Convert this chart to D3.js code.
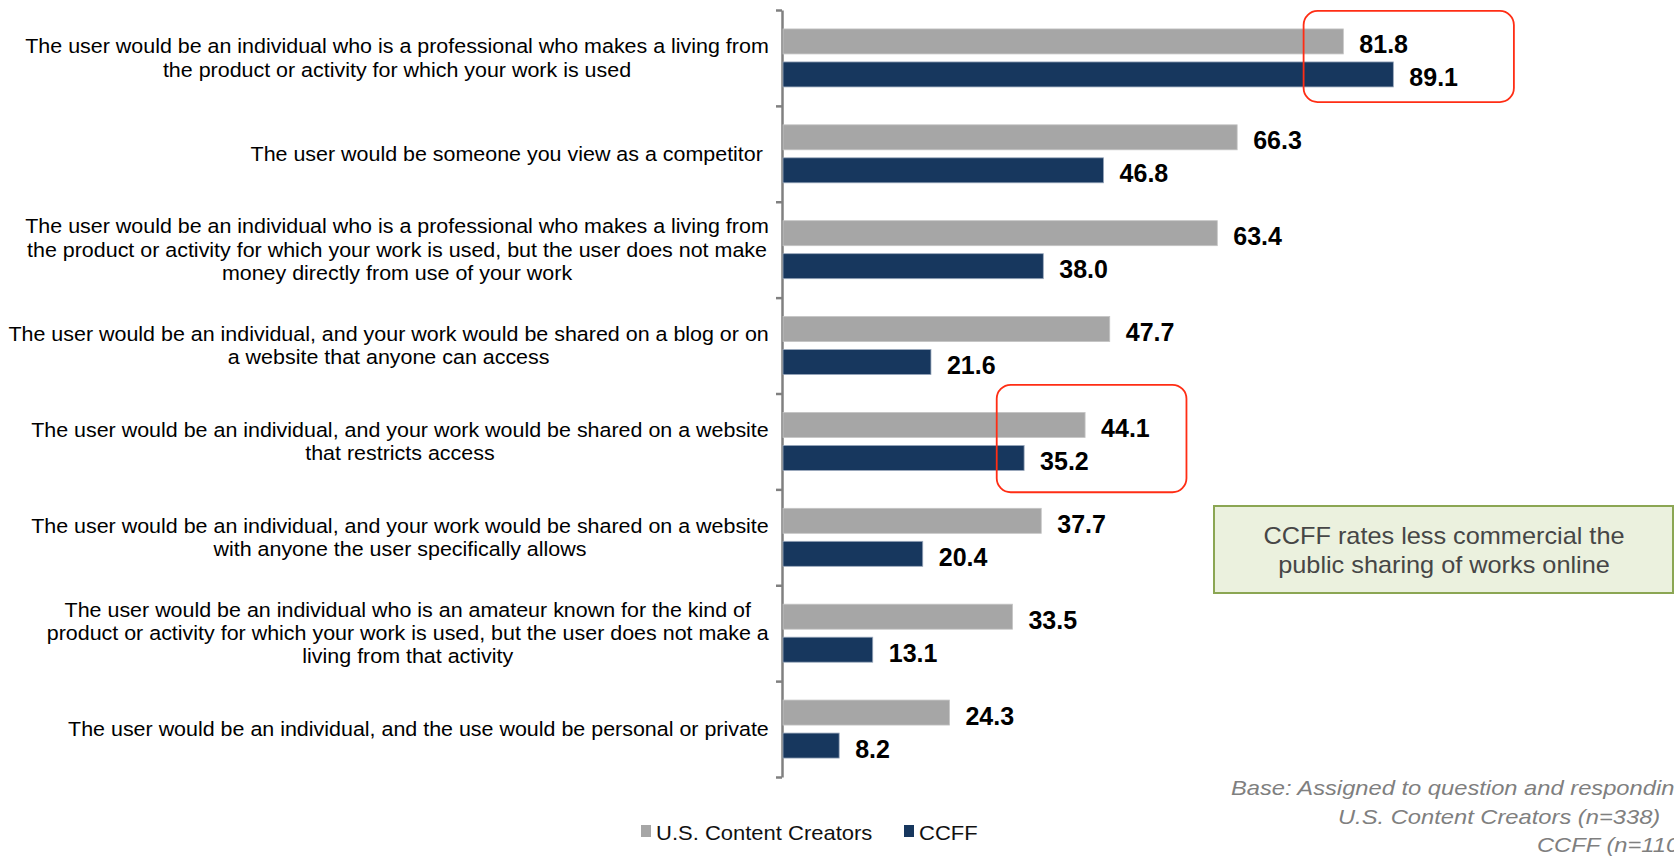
<!DOCTYPE html>
<html>
<head>
<meta charset="utf-8">
<script src="https://cdn.jsdelivr.net/npm/d3@7"></script>
<style>
  html, body { margin: 0; padding: 0; background: #fff; overflow: hidden; }
  svg { display: block; font-family: "Liberation Sans", Arial, sans-serif; }
</style>
</head>
<body>
<div id="chart"></div>
<script>
// categories, one entry per line of the wrapped label
var categories = [
  ["The user would be an individual who is a professional who makes a living from",
   "the product or activity for which your work is used"],
  ["The user would be someone you view as a competitor "],
  ["The user would be an individual who is a professional who makes a living from",
   "the product or activity for which your work is used, but the user does not make",
   "money directly from use of your work"],
  ["The user would be an individual, and your work would be shared on a blog or on",
   "a website that anyone can access"],
  ["The user would be an individual, and your work would be shared on a website",
   "that restricts access"],
  ["The user would be an individual, and your work would be shared on a website",
   "with anyone the user specifically allows"],
  ["The user would be an individual who is an amateur known for the kind of",
   "product or activity for which your work is used, but the user does not make a",
   "living from that activity"],
  ["The user would be an individual, and the use would be personal or private"]
];
var seriesNames = ["U.S. Content Creators", "CCFF"];
var usCreators = [81.8, 66.3, 63.4, 47.7, 44.1, 37.7, 33.5, 24.3];
var ccff = [89.1, 46.8, 38.0, 21.6, 35.2, 20.4, 13.1, 8.2];

// red outlines: value range and span in category slots
var highlights = [
  {from: 76.0, to: 106.7, slot0: 0.01, slot1: 0.96},
  {from: 31.2, to: 58.9, slot0: 3.91, slot1: 5.03}
];
var calloutText = ["CCFF rates less commercial the", "public sharing of works online"];
var baseNote = ["Base: Assigned to question and responding", "U.S. Content Creators (n=338)", "CCFF (n=1109)"];

var W = 1674, H = 857;
var colors = ["#a6a6a6", "#17375e"];
var stretch = 1.1;   // the source text is a bit wider than Arial

var svg = d3.select("#chart").append("svg")
    .attr("width", W)
    .attr("height", H);

var rows = categories.map(function(c, i) {
  return {idx: i, lines: c, values: [usCreators[i], ccff[i]]};
});

var x = d3.scaleLinear().domain([0, 100]).range([783, 1468]);

var y = d3.scaleBand()
    .domain(d3.range(categories.length))
    .range([10, 777])
    .paddingInner(0.395)
    .paddingOuter(0.1975);

var ySlot = d3.scaleLinear().domain([0, categories.length]).range([10, 777]);

var ySeries = d3.scaleBand()
    .domain([0, 1])
    .range([0, y.bandwidth()])
    .paddingInner(0.2424);

// axis with ticks on category boundaries
var axis = svg.append("g")
    .attr("transform", "translate(782,0)")
    .call(d3.axisLeft(ySlot).ticks(categories.length).tickSizeInner(6).tickSizeOuter(0).tickFormat(""));
axis.select(".domain").attr("stroke", "#808080").attr("stroke-width", 2.5);
axis.selectAll(".tick line").attr("stroke", "#808080").attr("stroke-width", 2.5);

// bars
var groups = svg.selectAll(".row")
    .data(rows)
    .enter().append("g")
    .attr("class", "row")
    .attr("transform", function(d) { return "translate(0," + y(d.idx) + ")"; });

groups.selectAll("rect")
    .data(function(d) { return d.values.map(function(v, k) { return {k: k, v: v}; }); })
    .enter().append("rect")
    .attr("x", x(0))
    .attr("y", function(d) { return ySeries(d.k); })
    .attr("width", function(d) { return x(d.v) - x(0); })
    .attr("height", ySeries.bandwidth())
    .attr("fill", function(d) { return colors[d.k]; })
    .attr("stroke", function(d) { return d.k == 0 ? "#c4c4c4" : "#9aa8bc"; })
    .attr("stroke-width", 0.8);

groups.selectAll("text.val")
    .data(function(d) { return d.values.map(function(v, k) { return {k: k, v: v}; }); })
    .enter().append("text")
    .attr("class", "val")
    .attr("x", function(d) { return x(d.v) + 16; })
    .attr("y", function(d) { return ySeries(d.k) + ySeries.bandwidth() - 0.5; })
    .attr("font-size", 25)
    .attr("font-weight", "bold")
    .attr("fill", "#000")
    .text(function(d) { return d3.format(".1f")(d.v); });

// category labels: lines centred on each other, block right aligned to the axis
var lineH = 23.3;
var labels = svg.selectAll(".cat")
    .data(rows)
    .enter().append("g")
    .attr("class", "cat");

labels.selectAll("text")
    .data(function(d) { return d.lines; })
    .enter().append("text")
    .attr("x", 0)
    .attr("y", function(l, i, nodes) { return (i - (nodes.length - 1) / 2) * lineH + 7; })
    .attr("text-anchor", "middle")
    .attr("font-size", 19.5)
    .attr("fill", "#000")
    .style("white-space", "pre")
    .text(function(l) { return l; });

labels.attr("transform", function(d) {
  var w = 0;
  d3.select(this).selectAll("text").each(function() { w = Math.max(w, this.getComputedTextLength()); });
  var cx = 769 - w * stretch / 2;
  return "translate(" + cx + "," + (y(d.idx) + y.bandwidth() / 2) + ") scale(" + stretch + ",1)";
});

// red outlines
svg.selectAll(".hl")
    .data(highlights)
    .enter().append("rect")
    .attr("class", "hl")
    .attr("x", function(d) { return x(d.from); })
    .attr("y", function(d) { return ySlot(d.slot0); })
    .attr("width", function(d) { return x(d.to) - x(d.from); })
    .attr("height", function(d) { return ySlot(d.slot1) - ySlot(d.slot0); })
    .attr("rx", 14)
    .attr("fill", "none")
    .attr("stroke", "#ff2d14")
    .attr("stroke-width", 1.8);

// callout box
var callout = svg.append("g").attr("transform", "translate(1214,506)");
callout.append("rect")
    .attr("width", 459)
    .attr("height", 87)
    .attr("fill", "#ebf1de")
    .attr("stroke", "#8ba653")
    .attr("stroke-width", 2);
callout.selectAll("text")
    .data(calloutText)
    .enter().append("text")
    .attr("transform", function(d, i) { return "translate(230," + (38 + i * 29) + ") scale(" + stretch + ",1)"; })
    .attr("text-anchor", "middle")
    .attr("font-size", 23)
    .attr("fill", "#464646")
    .text(function(d) { return d; });

// legend
var legend = svg.append("g").attr("transform", "translate(641,825)");
var legX = [0, 263];
var li = legend.selectAll("g")
    .data(seriesNames)
    .enter().append("g")
    .attr("transform", function(d, i) { return "translate(" + legX[i] + ",0)"; });
li.append("rect")
    .attr("width", 10)
    .attr("height", 12)
    .attr("fill", function(d, i) { return colors[i]; });
li.append("text")
    .attr("transform", "translate(15,15) scale(" + stretch + ",1)")
    .attr("font-size", 20)
    .attr("fill", "#111")
    .text(function(d) { return d; });

// base note, runs past the right edge like the source
var baseX = [1231, 1338, 1537];
svg.selectAll(".base")
    .data(baseNote)
    .enter().append("text")
    .attr("class", "base")
    .attr("transform", function(d, i) { return "translate(" + baseX[i] + "," + (795 + i * 28.5) + ") scale(1.13,1)"; })
    .attr("font-size", 21)
    .attr("font-style", "italic")
    .attr("fill", "#7f7f7f")
    .text(function(d) { return d; });
</script>
</body>
</html>
